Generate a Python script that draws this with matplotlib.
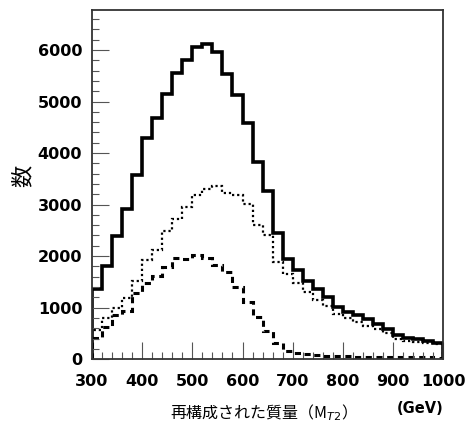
import numpy as np
import matplotlib
matplotlib.use("Agg")
import matplotlib.pyplot as plt
from matplotlib.ticker import MultipleLocator

# bin edges: 300 .. 1000 GeV, 20 GeV wide
edges = np.arange(300, 1001, 20)

total = [1360, 1810, 2390, 2910, 3580, 4300, 4680, 5140, 5550, 5800,
         6060, 6120, 5960, 5525, 5136, 4578, 3820, 3260, 2440, 1940,
         1730, 1510, 1355, 1200, 1020, 910, 860, 772, 680, 590,
         470, 410, 385, 350, 320]
dotted = [560, 800, 1000, 1180, 1520, 1920, 2120, 2480, 2710, 2960,
          3180, 3310, 3360, 3220, 3180, 3010, 2600, 2400, 1880, 1660,
          1470, 1300, 1140, 1030, 880, 790, 730, 640, 580, 510,
          390, 350, 330, 315, 300]
dashed = [410, 620, 850, 930, 1280, 1475, 1620, 1780, 1960, 1940,
          2030, 1960, 1820, 1690, 1400, 1110, 810, 550, 320, 160,
          120, 95, 80, 70, 60, 55, 50, 50, 45, 45,
          40, 40, 35, 35, 30]

fig = plt.figure(figsize=(4.67, 4.26), dpi=100)
ax = fig.add_axes([0.197, 0.157, 0.752, 0.820])

ax.stairs(total, edges, color="black", lw=2.6)
ax.stairs(dotted, edges, color="black", lw=1.6, linestyle=(0, (1, 1.3)))
ax.stairs(dashed, edges, color="black", lw=2.2, linestyle=(0, (2, 1.5)))

ax.set_xlim(300, 1000)
ax.set_ylim(0, 6780)

ax.xaxis.set_major_locator(MultipleLocator(100))
ax.xaxis.set_minor_locator(MultipleLocator(20))
ax.yaxis.set_major_locator(MultipleLocator(1000))
ax.yaxis.set_minor_locator(MultipleLocator(200))
ax.tick_params(which="both", direction="in", top=False, right=False,
               width=0.8, color="#555555")
ax.tick_params(which="major", length=12)
ax.tick_params(which="minor", length=5)
ax.tick_params(axis="x", which="major", pad=11)
ax.tick_params(axis="y", which="major", pad=7)
for lab in ax.get_xticklabels() + ax.get_yticklabels():
    lab.set_fontsize(11.5)
    lab.set_fontweight("bold")
for sp in ax.spines.values():
    sp.set_linewidth(1.3)
    sp.set_color("#333333")

cjk = ["Noto Sans CJK JP", "DejaVu Sans"]
fig.text(0.555, 0.008, "再構成された質量（M$_{T2}$）", ha="center", va="bottom",
         fontsize=11.5, family=cjk)
fig.text(0.90, 0.024, "(GeV)", ha="center", va="bottom", fontsize=10.5,
         fontweight="bold")
fig.text(0.05, 0.587, "数", ha="center", va="center", rotation=90,
         fontsize=16, family=cjk)

fig.savefig("out.png", dpi=100)
